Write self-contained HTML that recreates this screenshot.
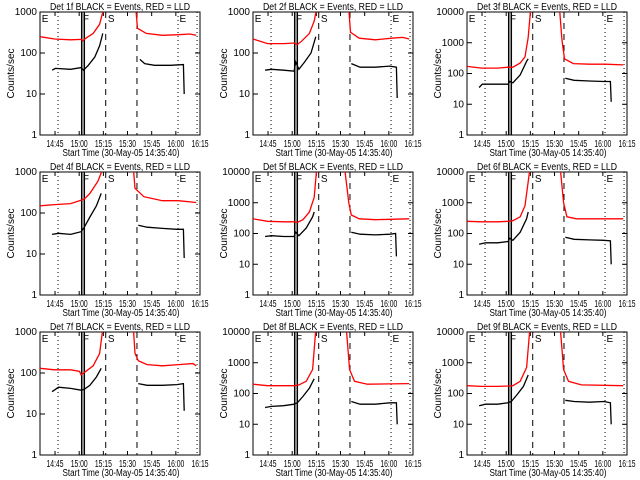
<!DOCTYPE html>
<html><head><meta charset="utf-8"><style>
html,body{margin:0;padding:0;background:#fff}
svg{display:block}
text{font-family:"Liberation Sans",sans-serif;font-size:10px;fill:#000}
</style></head><body>
<svg id="chart" width="640" height="480" viewBox="0 0 640 480"></svg>
<script>
const detNames = ["1f","2f","3f","4f","5f","6f","7f","8f","9f"];
const yMaxDecade = [3,3,4,3,4,4,3,4,4];
const tickLabels = ["14:45","15:00","15:15","15:30","15:45","16:00","16:15"];
const tickMinutes = [9.33,24.33,39.33,54.33,69.33,84.33,99.33];
const markerMinutes = [11.2,25.9,27.5,40.8,60.2,85.7,97.5];
// red (LLD) pre-gap series: [minute, value]
const redPre = [
 [[0,250],[9,220],[19,210],[25.5,215],[26.5,200],[28.5,230],[33,300],[37,500],[39,1000],[40,2000]],
 [[0,220],[9,170],[19,170],[25.5,175],[27.5,160],[30.5,200],[35,300],[38,600],[39.5,1200]],
 [[0,170],[9,150],[19,150],[25.5,160],[28.5,160],[33,220],[36,350],[38,1500],[39.5,12000]],
 [[0,150],[9,160],[19,170],[24.5,200],[27.5,220],[31,300],[36,600],[39,1200]],
 [[0,300],[9,250],[19,240],[25.5,240],[27.5,230],[31,280],[35,500],[38,1500],[39.5,12000]],
 [[0,250],[9,240],[19,240],[25.5,250],[28.5,260],[33,350],[36,800],[39,12000]],
 [[0,130],[9,120],[19,120],[24.5,110],[25.5,90],[28.5,110],[33,150],[37,300],[39,1200]],
 [[0,200],[9,180],[19,180],[25.5,180],[28.5,190],[33,250],[37,600],[39,12000]],
 [[0,180],[9,170],[19,170],[25.5,175],[28.5,180],[33,250],[37,700],[39,12000]]
];
const redPost = [
 [[59.5,1200],[60.5,400],[66,300],[76,270],[86,280],[93,290],[97,270]],
 [[59.5,1200],[60.5,320],[66,230],[76,210],[86,230],[93,240],[97,220]],
 [[57.5,12000],[59,1200],[60.5,300],[66,210],[76,200],[86,200],[97,190]],
 [[58,1200],[59,400],[64.5,250],[76,200],[86,200],[97,180]],
 [[57,12000],[59.5,1000],[61,400],[66,300],[76,280],[97,300]],
 [[58,12000],[60,1000],[62,350],[68,300],[97,300]],
 [[58,1200],[59,300],[61,200],[66.5,160],[76,150],[86,160],[95,170],[97,150]],
 [[58,12000],[60,600],[63,250],[71,200],[97,210]],
 [[58,12000],[60,600],[63,250],[71,190],[97,180]]
];
const blackPre = [
 [[7.5,38],[9.5,42],[19,40],[25.5,44],[27,38],[30,50],[34,80],[37,150],[39,300]],
 [[7.5,38],[11.5,40],[19,38],[25.5,36],[26.5,60],[28.5,40],[32,60],[36,100],[39,250]],
 [[7.5,35],[9.5,45],[19,45],[25.5,45],[26.5,55],[28.5,50],[33,90],[37,250],[38,300]],
 [[7.5,30],[11.5,32],[19,30],[25.5,35],[27.5,45],[31,80],[35,150],[38,300]],
 [[7.5,80],[11.5,85],[19,80],[25.5,80],[26.5,110],[28.5,85],[33,150],[37,350],[38,500]],
 [[7.5,45],[11.5,50],[19,50],[25.5,55],[26.5,70],[28.5,60],[33,110],[37,300],[38,500]],
 [[7.5,35],[11.5,45],[19,42],[25.5,38],[27.5,40],[31,50],[35,80],[38,130]],
 [[7.5,35],[11.5,38],[19,40],[25.5,45],[27.5,50],[31,80],[35,150],[38,300]],
 [[7.5,40],[11.5,45],[19,45],[25.5,50],[27.5,55],[31,90],[35,170],[38,400]]
];
const blackPost = [
 [[62,70],[65,55],[71,50],[81,50],[89,52],[89.5,10]],
 [[61,55],[66.5,45],[76,45],[85,48],[89,45],[89.5,8]],
 [[61,70],[66.5,60],[76,57],[85,55],[89,55],[89.5,12]],
 [[61,50],[66.5,45],[76,42],[85,40],[89,40],[89.5,8]],
 [[61,110],[66.5,95],[76,90],[85,95],[88.5,100],[89,18]],
 [[61,75],[66.5,65],[76,62],[85,60],[89,58],[89.5,10]],
 [[61,55],[66.5,50],[76,50],[85,52],[89,55],[89.5,12]],
 [[61,55],[66.5,45],[76,45],[85,50],[89,50],[89.5,10]],
 [[61,60],[66.5,55],[76,52],[85,55],[89,50],[89.5,10]]
];

const svg = document.getElementById('chart');
const NS = 'http://www.w3.org/2000/svg';
function mk(tag, attrs, parent){const e=document.createElementNS(NS,tag);for(const k in attrs)e.setAttribute(k,attrs[k]);parent.appendChild(e);return e;}
const colX=[40,253,467], rowY=[12,172,332], W=160, H=123, XMAX=99.33;

for(let i=0;i<9;i++){
  const x0=colX[i%3], y0=rowY[Math.floor(i/3)], dmax=yMaxDecade[i];
  const g=mk('g',{},svg);
  
  
  const xs=m=>x0+m/XMAX*W;
  const ys=v=>y0+H-Math.log10(Math.max(v,1))/dmax*H;
  const clip='clip'+i;
  const cp=mk('clipPath',{id:clip},g); mk('rect',{x:x0,y:y0,width:W,height:H},cp);
  const box=mk('rect',{x:x0,y:y0,width:W,height:H,fill:'none',stroke:'#000','stroke-width':1},g);
  
  
  const t=mk('text',{x:x0+W/2,y:y0-2,'text-anchor':'middle','font-size':'11',textLength:140,lengthAdjust:'spacingAndGlyphs'},g);
  t.textContent='Det '+detNames[i]+' BLACK = Events, RED = LLD';
  
  
  tickMinutes.forEach((m,k)=>{
    const x=xs(m);
    mk('line',{x1:x,x2:x,y1:y0+H,y2:y0+H-4,stroke:'#000'},g);
    mk('line',{x1:x,x2:x,y1:y0,y2:y0+4,stroke:'#000'},g);
    const tl=mk('text',{x:x,y:y0+H+12,'text-anchor':'middle','font-size':'10',textLength:17,lengthAdjust:'spacingAndGlyphs'},g);
    tl.textContent=tickLabels[k];
    
    
  });
  const xt=mk('text',{x:x0+W/2+1,y:y0+H+21,'text-anchor':'middle','font-size':'10',textLength:117,lengthAdjust:'spacingAndGlyphs'},g);
  xt.textContent='Start Time (30-May-05 14:35:40)';
  
  
  for(let d=0;d<=dmax;d++){
    const y=ys(Math.pow(10,d));
    mk('line',{x1:x0,x2:x0+5,y1:y,y2:y,stroke:'#000'},g);
    mk('line',{x1:x0+W,x2:x0+W-5,y1:y,y2:y,stroke:'#000'},g);
    const yl=mk('text',{x:x0-3,y:y+3,'text-anchor':'end','font-size':'9'},g);
    yl.textContent=String(Math.pow(10,d));
    
    
  }
  const yt=mk('text',{x:0,y:0,'text-anchor':'middle','font-size':'9',transform:`translate(${x0-26},${y0+H/2}) rotate(-90)`},g);
  yt.textContent='Counts/sec';
  
  
  const styles=['1,3','','','6,5','6,5','1,3','1,3'];
  markerMinutes.forEach((m,k)=>{
    const ml=mk('line',{x1:xs(m),x2:xs(m),y1:y0,y2:y0+H,stroke:'#000','stroke-width':k==1||k==2?1.5:1,'stroke-dasharray':styles[k]},g);
    
    
  });
  [['E',0.5],['F',26],['S',41.5],['E',86]].forEach(([c,m])=>{
    const lt=mk('text',{x:xs(m)+1,y:y0+10,'font-size':'12'},g);
    lt.textContent=c;
    
    
  });
  const lineOf=(pts,col,name)=>{
    const p=mk('polyline',{points:pts.map(q=>xs(q[0]).toFixed(1)+','+ys(q[1]).toFixed(1)).join(' '),fill:'none',stroke:col,'stroke-width':1.3,'clip-path':`url(#${clip})`},g);
    
    
  };
  lineOf(redPre[i],'#ff0000','lld-series-pre');
  lineOf(redPost[i],'#ff0000','lld-series-post');
  lineOf(blackPre[i],'#000','events-series-pre');
  lineOf(blackPost[i],'#000','events-series-post');
}
</script>
</body></html>
